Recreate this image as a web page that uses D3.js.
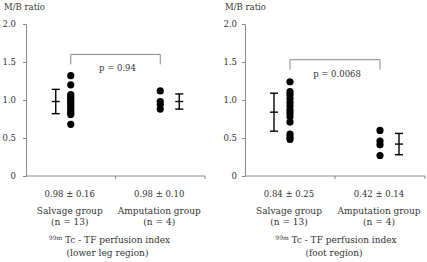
<!DOCTYPE html>
<html>
<head>
<meta charset="utf-8">
<script src="https://cdn.jsdelivr.net/npm/d3@7"></script>
<style>
  body { margin: 0; background: #fff; }
  svg text { font-family: "DejaVu Serif", serif; fill: #333; }
</style>
</head>
<body>
<div class="canvas"></div>
<script>
// groups and tick values
const groups = ['Salvage group', 'Amputation group'];
const groupN = ['(n = 13)', '(n = 4)'];
const yTicks = [0, 0.5, 1.0, 1.5, 2.0];

// lower leg region
const legSalvage = [1.32, 1.20, 1.07, 1.04, 1.01, 0.98, 0.95, 0.92, 0.89, 0.86, 0.83, 0.81, 0.68];
const legAmputation = [1.12, 0.98, 0.94, 0.88];
const legMean = [0.98, 0.98];
const legSd = [0.16, 0.10];
const legP = 'p = 0.94';

// foot region
const footSalvage = [1.24, 1.11, 1.07, 1.02, 0.97, 0.92, 0.87, 0.83, 0.78, 0.71, 0.55, 0.51, 0.48];
const footAmputation = [0.60, 0.46, 0.41, 0.27];
const footMean = [0.84, 0.42];
const footSd = [0.25, 0.14];
const footP = 'p = 0.0068';

const svg = d3.select('.canvas')
    .append('svg')
    .attr('width', 427)
    .attr('height', 262)
    .attr('font-family', '"DejaVu Serif", serif');

function panel(opts) {
    const g = svg.append('g');

    const y = d3.scaleLinear()
        .domain([0, 2])
        .range([176, 24]);

    const x = d3.scaleBand()
        .domain(groups)
        .range([opts.left, opts.right]);

    const cx = d => x(d) + x.bandwidth() / 2;

    // y axis
    const yAxis = d3.axisLeft(y)
        .tickValues(yTicks)
        .tickSize(3)
        .tickFormat(d => d === 0 ? '0' : d3.format('.1f')(d));

    const yg = g.append('g')
        .attr('transform', `translate(${opts.left},0)`)
        .call(yAxis)
        .attr('font-family', null);
    yg.select('.domain').attr('stroke', '#888');
    yg.selectAll('.tick line').attr('stroke', '#888');
    yg.selectAll('.tick text')
        .attr('font-size', 8.5)
        .attr('x', opts.labelX);

    // x axis line with small ticks
    g.append('line')
        .attr('x1', opts.left).attr('x2', opts.right)
        .attr('y1', y(0)).attr('y2', y(0))
        .attr('stroke', '#888');
    g.selectAll('.xtick')
        .data([opts.left + x.bandwidth(), opts.right])
        .enter()
        .append('line')
        .attr('x1', d => d).attr('x2', d => d)
        .attr('y1', y(0)).attr('y2', y(0) + 3)
        .attr('stroke', '#888');

    // axis title
    g.append('text')
        .attr('x', opts.left + opts.titleX)
        .attr('y', 10)
        .attr('font-size', 8.5)
        .text('M/B ratio');

    // dots
    const pts = [];
    opts.salvage.forEach(v => pts.push({ g: groups[0], v }));
    opts.amputation.forEach(v => pts.push({ g: groups[1], v }));

    g.selectAll('circle')
        .data(pts)
        .enter()
        .append('circle')
        .attr('cx', d => cx(d.g))
        .attr('cy', d => y(d.v))
        .attr('r', 3.6)
        .attr('fill', '#000');

    // mean +- sd bars
    groups.forEach((grp, i) => {
        const ex = cx(grp) + opts.errOffset[i];
        const m = opts.mean[i], s = opts.sd[i];
        const eb = g.append('g').attr('stroke', '#000').attr('stroke-width', 1.4);
        eb.append('line')
            .attr('x1', ex).attr('x2', ex)
            .attr('y1', y(m + s)).attr('y2', y(m - s));
        [m + s, m, m - s].forEach(v => {
            eb.append('line')
                .attr('x1', ex - 4).attr('x2', ex + 4)
                .attr('y1', y(v)).attr('y2', y(v));
        });

        // summary text under axis
        g.append('text')
            .attr('x', cx(grp) - 1)
            .attr('y', 197)
            .attr('text-anchor', 'middle')
            .attr('font-size', 8.5)
            .text(`${d3.format('.2f')(m)} \u00b1 ${d3.format('.2f')(s)}`);
        g.append('text')
            .attr('x', cx(grp) - 1)
            .attr('y', 214)
            .attr('text-anchor', 'middle')
            .attr('font-size', 9)
            .text(grp);
        g.append('text')
            .attr('x', cx(grp) - 1)
            .attr('y', 225)
            .attr('text-anchor', 'middle')
            .attr('font-size', 9)
            .text(groupN[i]);
    });

    // significance bracket
    const bx1 = cx(groups[0]), bx2 = cx(groups[1]);
    const by = y(opts.bracketY);
    g.append('path')
        .attr('d', `M${bx1},${by + 10}V${by}H${bx2}V${by + 10}`)
        .attr('fill', 'none')
        .attr('stroke', '#888');
    g.append('text')
        .attr('x', (bx1 + bx2) / 2 + 2)
        .attr('y', by + 17)
        .attr('text-anchor', 'middle')
        .attr('font-size', 8.5)
        .text(opts.p);

    // bottom caption
    const mid = (opts.left + opts.right) / 2 + opts.capShift;
    const cap = g.append('text')
        .attr('x', mid)
        .attr('y', 243)
        .attr('text-anchor', 'middle')
        .attr('font-size', 9);
    cap.append('tspan')
        .attr('font-size', 6)
        .attr('dy', -3)
        .text('99m');
    cap.append('tspan')
        .attr('dy', 3)
        .text(' Tc - TF perfusion index');
    g.append('text')
        .attr('x', mid - 2)
        .attr('y', 256)
        .attr('text-anchor', 'middle')
        .attr('font-size', 9)
        .text(opts.region);
}

panel({
    left: 26, right: 205, labelX: -10, titleX: -22, capShift: -6,
    salvage: legSalvage, amputation: legAmputation,
    mean: legMean, sd: legSd, errOffset: [-15, 19],
    bracketY: 1.6, p: legP, region: '(lower leg region)'
});

panel({
    left: 245, right: 425, labelX: -8, titleX: -20, capShift: 1,
    salvage: footSalvage, amputation: footAmputation,
    mean: footMean, sd: footSd, errOffset: [-16, 19],
    bracketY: 1.53, p: footP, region: '(foot region)'
});
</script>
</body>
</html>
